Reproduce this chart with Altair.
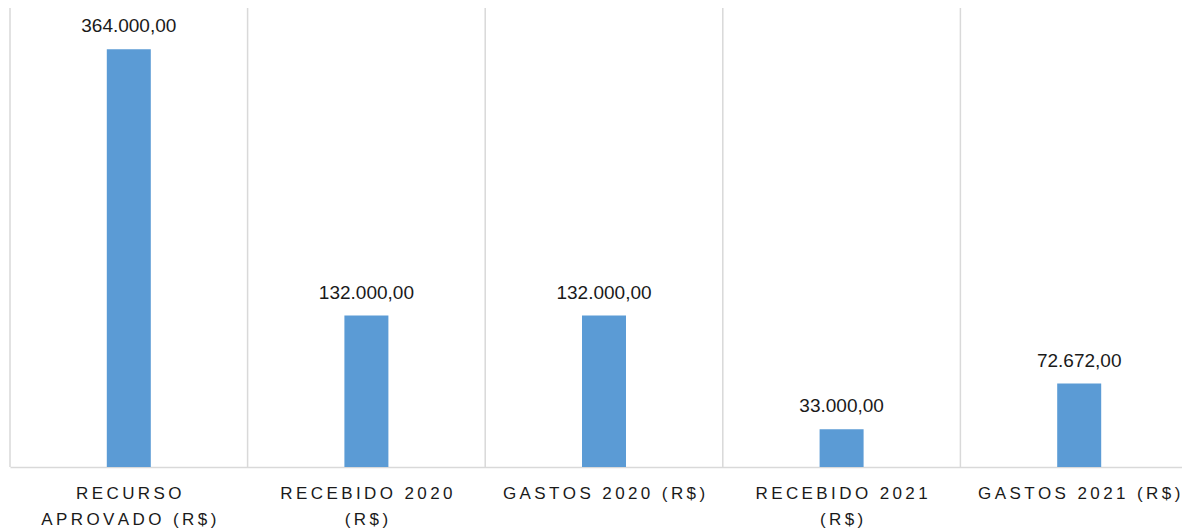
import altair as alt
import pandas as pd

categories = ["RECURSO APROVADO (R$)", "RECEBIDO 2020 (R$)", "GASTOS 2020 (R$)",
              "RECEBIDO 2021 (R$)", "GASTOS 2021 (R$)"]
values = [364000, 132000, 132000, 33000, 72672]
value_labels = ["364.000,00", "132.000,00", "132.000,00", "33.000,00", "72.672,00"]
label_lines = [["RECURSO", "APROVADO (R$)"], ["RECEBIDO 2020", "(R$)"], ["GASTOS 2020 (R$)"],
               ["RECEBIDO 2021", "(R$)"], ["GASTOS 2021 (R$)"]]

THIN = "\u2009"
def spaced(s):
    return THIN.join(list(s))

df = pd.DataFrame({
    "cat": categories,
    "val": values,
    "vlabel": value_labels,
    "xlabel": ["\n".join(spaced(l) for l in lines) for lines in label_lines],
})

W, H = 1172, 459
XR = [0, 1188]
xscale = alt.Scale(paddingInner=0, paddingOuter=0, range=XR)
xenc = alt.X("cat:N", sort=categories, scale=xscale,
             axis=alt.Axis(labels=False, ticks=False, title=None, domain=True,
                           domainColor="#d9d9d9", domainWidth=1.5, grid=False))
yenc = alt.Y("val:Q", scale=alt.Scale(domain=[0, 400000], nice=False), axis=None)

base = alt.Chart(df)

grid = base.mark_rule(color="#d9d9d9", strokeWidth=1.5).encode(
    x=alt.X("cat:N", sort=categories, bandPosition=0, scale=xscale),
)
bars = base.mark_bar(color="#5B9BD5", size=44).encode(x=xenc, y=yenc)
vtext = base.mark_text(baseline="alphabetic", dy=-17, font="Liberation Sans",
                       fontSize=19, color="#1a1a1a").encode(
    x=alt.X("cat:N", sort=categories, scale=xscale), y=yenc, text="vlabel:N")
xtext = base.mark_text(baseline="top", lineBreak="\n", lineHeight=26,
                       font="Liberation Sans", fontSize=17, color="#1a1a1a").encode(
    x=alt.X("cat:N", sort=categories, scale=xscale), y=alt.value(H + 19), text="xlabel:N")

chart = alt.layer(grid, bars, vtext, xtext).properties(
    width=W, height=H,
    padding={"left": 2, "top": 0, "right": 0, "bottom": 64},
    autosize=alt.AutoSizeParams(type="none"),
).configure_view(stroke=None)

chart.save("out.html", embed_options={"renderer": "svg", "actions": False})
